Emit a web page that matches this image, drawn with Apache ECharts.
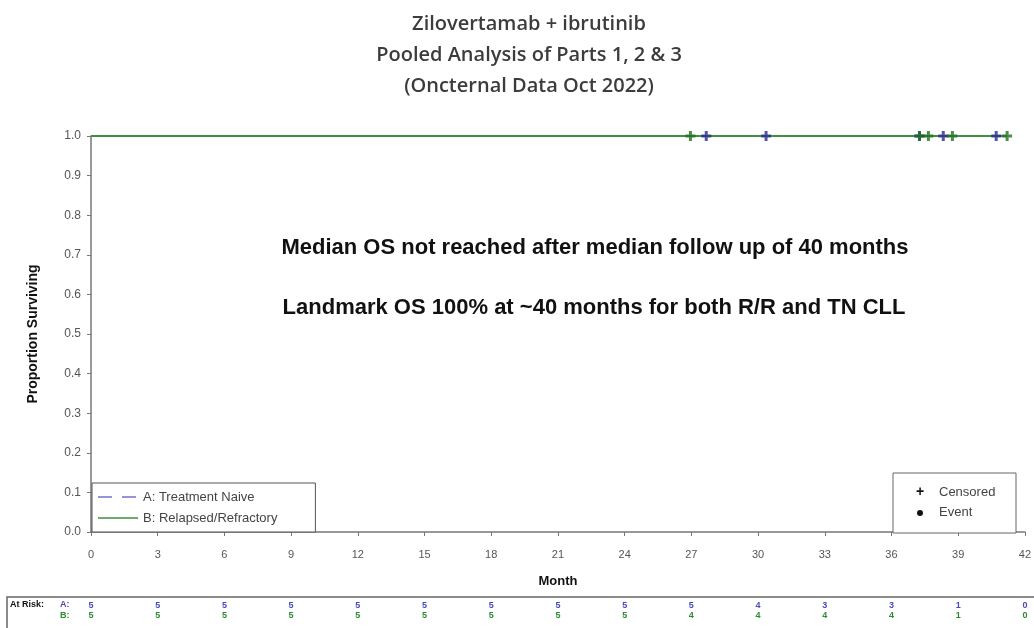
<!DOCTYPE html>
<html><head><meta charset="utf-8">
<script src="https://cdn.jsdelivr.net/npm/echarts@6/dist/echarts.min.js"></script>
<style>html,body{margin:0;padding:0;background:#fff}#c{width:1034px;height:628px}</style>
</head><body><div id="c"></div>
<script>
// ---- data ----
var titleLines = ['Zilovertamab + ibrutinib', 'Pooled Analysis of Parts 1, 2 & 3', '(Oncternal Data Oct 2022)'];
var noteLines = ['Median OS not reached after median follow up of 40 months', 'Landmark OS 100% at ~40 months for both R/R and TN CLL'];
var seriesNames = ['A: Treatment Naive', 'B: Relapsed/Refractory'];
var censorA = [27.67, 30.36, 37.26, 38.33, 40.71];   // months, censored (Treatment Naive)
var censorB = [26.96, 37.26, 37.66, 38.74, 41.2];    // months, censored (Relapsed/Refractory)
var eventsA = [];
var eventsB = [];
var riskTimes = [0, 3, 6, 9, 12, 15, 18, 21, 24, 27, 30, 33, 36, 39, 42];
var riskA = [5, 5, 5, 5, 5, 5, 5, 5, 5, 5, 4, 3, 3, 1, 0];
var riskB = [5, 5, 5, 5, 5, 5, 5, 5, 5, 4, 4, 4, 4, 1, 0];

var BLUE = '#4a4ab8', GREEN = '#3f8f3f', GREEN_D = '#1f6f1f', BLUE_D = '#2b2b90';
var PLUS = 'path://M3.5,0h3v3.5h3.5v3h-3.5v3.5h-3v-3.5h-3.5v-3h3.5z';
var ICON_DASH = 'path://M0,0h0.01M40,14h0.01M0,6.2h14v1.6h-14zM24,6.2h14v1.6h-14z';
var ICON_SOLID = 'path://M0,0h0.01M40,14h0.01M0,6.2h40v1.6h-40z';

function kmCurve(censor, events) {
  var all = censor.map(function (t) { return {t: t, e: 0}; }).concat(events.map(function (t) { return {t: t, e: 1}; }));
  all.sort(function (a, b) { return a.t - b.t; });
  var n = all.length, s = 1, pts = [[0, 1]];
  all.forEach(function (d) {
    if (d.e) { pts.push([d.t, s]); s = s * (n - 1) / n; pts.push([d.t, s]); }
    n--;
  });
  pts.push([all[all.length - 1].t, s]);
  return pts;
}

var chart = echarts.init(document.getElementById('c'));
var F = 'Liberation Sans, Arial, sans-serif';
chart.setOption({
  animation: false,
  title: [
    {text: titleLines.join('\n'), top: 4, textAlign: 'center', left: 524,
     textStyle: {fontFamily: 'Open Sans', fontSize: 20, fontWeight: 600, color: '#3c3c3c', lineHeight: 31}},
    {text: noteLines[0], left: 590, top: 232, textAlign: 'center',
     textStyle: {fontFamily: F, fontSize: 22, fontWeight: 'bold', color: '#111'}},
    {text: noteLines[1], left: 589, top: 292, textAlign: 'center',
     textStyle: {fontFamily: F, fontSize: 22, fontWeight: 'bold', color: '#111'}}
  ],
  legend: {
    data: [{name: seriesNames[0], icon: ICON_DASH, itemStyle: {color: '#7373c8'}}, {name: seriesNames[1], icon: ICON_SOLID}],
    orient: 'vertical', left: 92, top: 483,
    borderColor: '#555', borderWidth: 1, padding: [7, 38, 7, 6],
    itemWidth: 40, itemHeight: 14, itemGap: 7, backgroundColor: '#fff',
    textStyle: {fontFamily: F, fontSize: 13, color: '#444'}
  },
  grid: {left: 91, right: 5, top: 136, bottom: 96},
  xAxis: [
    {type: 'value', min: 0, max: 42, interval: 3, offset: 6,
     name: 'Month', nameLocation: 'middle', nameGap: 37,
     nameTextStyle: {fontFamily: F, fontSize: 13, fontWeight: 'bold', color: '#111'},
     axisLine: {show: true, lineStyle: {color: '#777', width: 1.5}},
     axisTick: {show: true, length: 4, lineStyle: {color: '#777'}},
     axisLabel: {margin: 11, fontFamily: F, fontSize: 11, color: '#555'},
     splitLine: {show: false}},
    {type: 'value', min: 0, max: 42, interval: 3, offset: 69, position: 'bottom',
     axisLine: {show: false}, axisTick: {show: false}, splitLine: {show: false},
     axisLabel: {margin: 0, fontFamily: F, fontSize: 9, fontWeight: 'bold', color: BLUE,
       formatter: function (v) { var i = riskTimes.indexOf(v); return i < 0 ? '' : String(riskA[i]); }}},
    {type: 'value', min: 0, max: 42, interval: 3, offset: 79, position: 'bottom',
     axisLine: {show: false}, axisTick: {show: false}, splitLine: {show: false},
     axisLabel: {margin: 0, fontFamily: F, fontSize: 9, fontWeight: 'bold', color: '#2e8b2e',
       formatter: function (v) { var i = riskTimes.indexOf(v); return i < 0 ? '' : String(riskB[i]); }}}
  ],
  yAxis: {type: 'value', min: 0, max: 1, interval: 0.1, offset: 3,
    name: 'Proportion Surviving', nameLocation: 'middle', nameGap: 48, nameRotate: 90,
    nameTextStyle: {fontFamily: F, fontSize: 14, fontWeight: 'bold', color: '#111'},
    axisLine: {show: true, lineStyle: {color: '#777', width: 1.5}},
    axisTick: {show: true, length: 4, lineStyle: {color: '#777'}},
    axisLabel: {margin: 7, fontFamily: F, fontSize: 12, color: '#555', formatter: function (v) { return v.toFixed(1); }},
    splitLine: {show: false}},
  series: [
    {name: seriesNames[0], type: 'line', data: kmCurve(censorA, eventsA), symbol: 'none', step: 'end',
     lineStyle: {color: BLUE, width: 1.5, type: [8, 6]}, itemStyle: {color: BLUE}, z: 2},
    {name: seriesNames[1], type: 'line', data: kmCurve(censorB, eventsB), symbol: 'none', step: 'end',
     lineStyle: {color: GREEN, width: 1.8}, itemStyle: {color: GREEN}, z: 3},
    {name: 'censA', type: 'scatter', data: censorA.map(function (t) { return [t, 1]; }),
     symbol: PLUS, symbolSize: 10, itemStyle: {color: BLUE_D}, z: 4},
    {name: 'censB', type: 'scatter', data: censorB.map(function (t) { return [t, 1]; }),
     symbol: PLUS, symbolSize: 10, itemStyle: {color: GREEN_D}, z: 5}
  ],
  graphic: [
    {type: 'rect', shape: {x: 893, y: 473, width: 123, height: 60}, style: {fill: '#fff', stroke: '#666', lineWidth: 1}, z: 10},
    {type: 'text', x: 916, y: 485, style: {text: '+', font: 'bold 14px ' + F, fill: '#111'}, z: 11},
    {type: 'text', x: 939, y: 486, style: {text: 'Censored', font: '13px ' + F, fill: '#444'}, z: 11},
    {type: 'circle', shape: {cx: 920, cy: 513, r: 3}, style: {fill: '#111'}, z: 11},
    {type: 'text', x: 939, y: 506, style: {text: 'Event', font: '13px ' + F, fill: '#444'}, z: 11},
    {type: 'rect', shape: {x: 7, y: 597, width: 1040, height: 40}, style: {fill: 'none', stroke: '#666', lineWidth: 1.5}, z: 1},
    {type: 'text', x: 10, y: 600, style: {text: 'At Risk:', font: 'bold 9px ' + F, fill: '#111'}},
    {type: 'text', x: 60, y: 600, style: {text: 'A:', font: 'bold 9px ' + F, fill: BLUE}},
    {type: 'text', x: 60, y: 611, style: {text: 'B:', font: 'bold 9px ' + F, fill: '#2e8b2e'}}
  ]
});
</script></body></html>
